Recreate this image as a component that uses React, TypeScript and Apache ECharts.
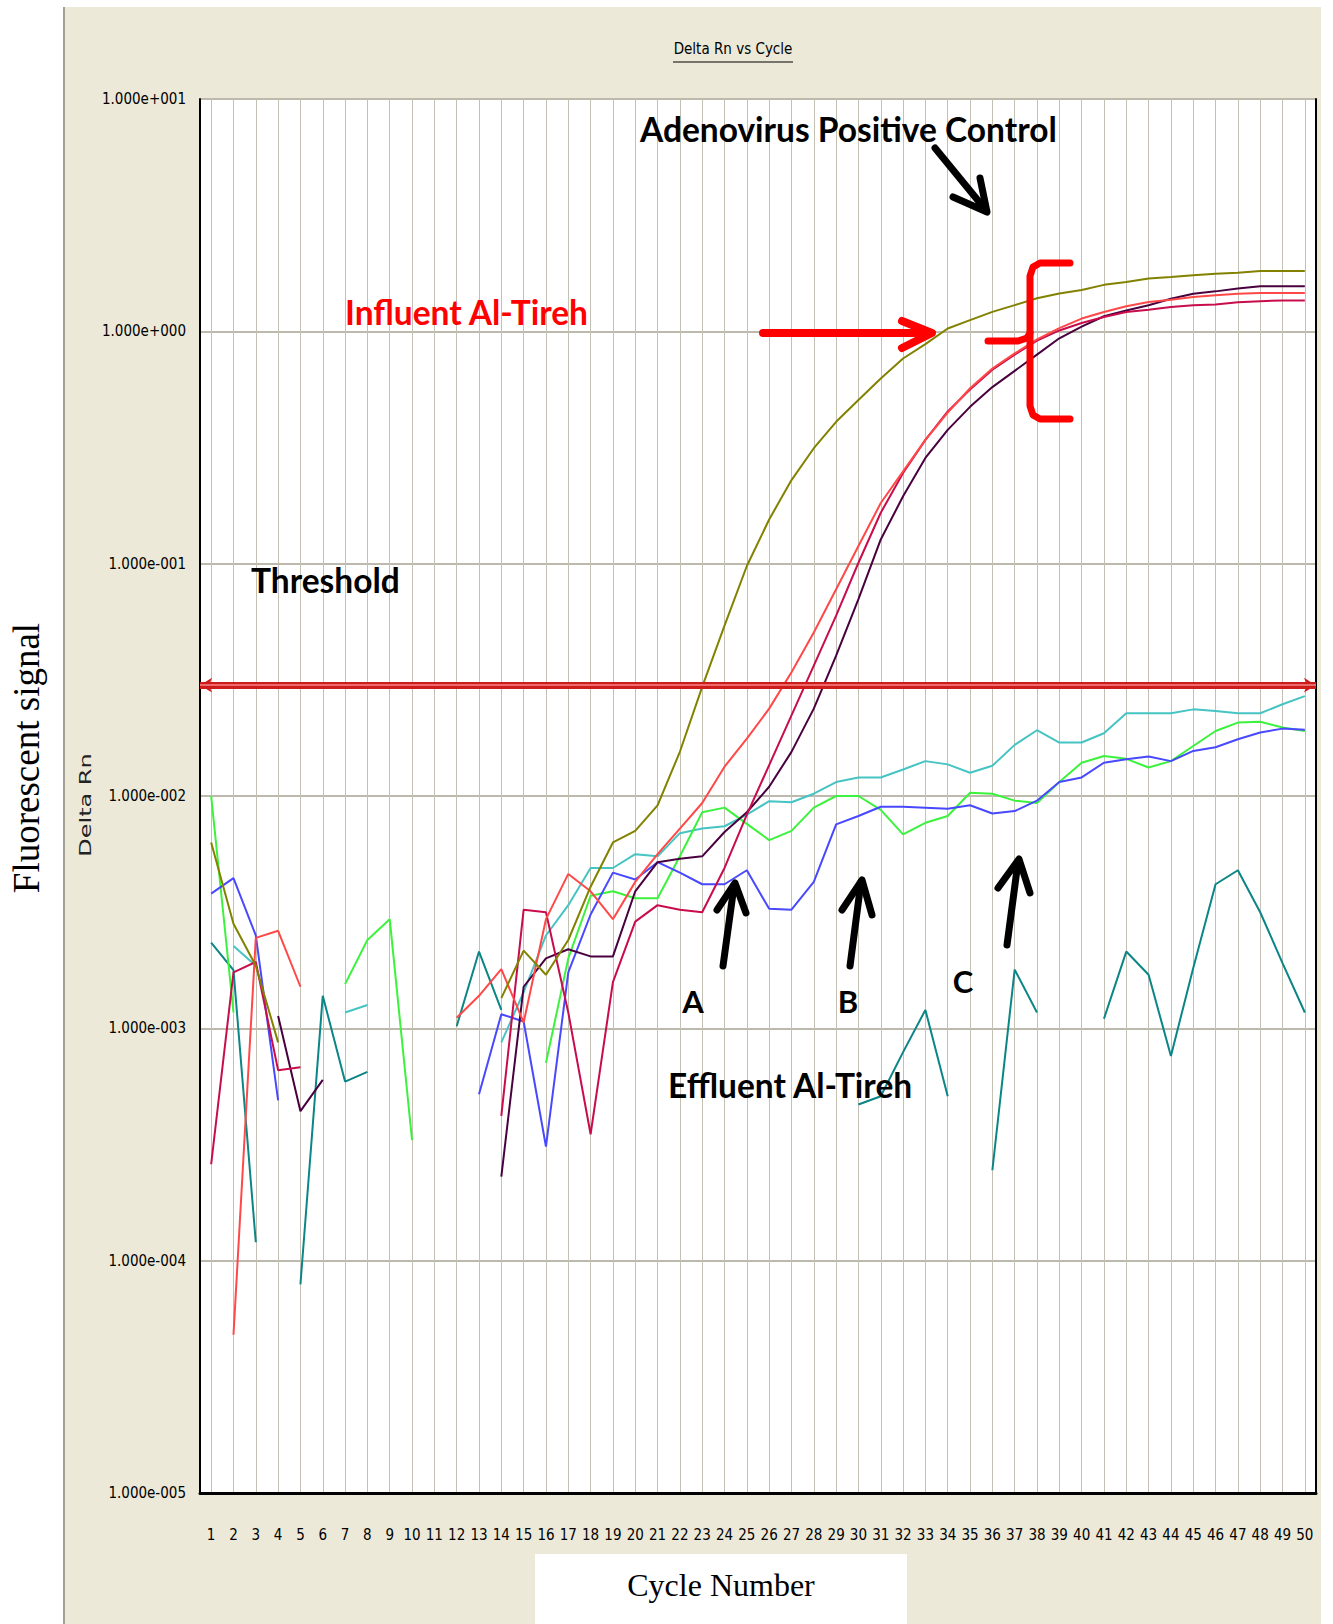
import React, { useEffect, useRef } from "react";
import * as echarts from "echarts";

const cycleLabels = [
  "1", "2", "3", "4", "5", "6", "7", "8", "9", "10",
  "11", "12", "13", "14", "15", "16", "17", "18", "19", "20",
  "21", "22", "23", "24", "25", "26", "27", "28", "29", "30",
  "31", "32", "33", "34", "35", "36", "37", "38", "39", "40",
  "41", "42", "43", "44", "45", "46", "47", "48", "49", "50",
];

const yTickLabels = ["1.000e-005", "1.000e-004", "1.000e-003", "1.000e-002", "1.000e-001", "1.000e+000", "1.000e+001"];
const yMin = 0.00001;
const yMax = 10;
const thresholdValue = 0.0301;

// Adenovirus positive control (olive)
const adenovirusControl = [
  0.00631, 0.00282, 0.00186, 0.00087, null, null, null, null, null, null,
  null, null, null, 0.00135, 0.00216, 0.0017, 0.0024, 0.00407, 0.00631, 0.00708,
  0.00912, 0.0155, 0.0295, 0.0541, 0.0977, 0.155, 0.229, 0.314, 0.408, 0.506,
  0.627, 0.764, 0.881, 1.028, 1.117, 1.213, 1.297, 1.387, 1.455, 1.507,
  1.585, 1.629, 1.687, 1.714, 1.742, 1.77, 1.789, 1.82, 1.82, 1.82,
];

// Influent Al-Tireh samples
const influentSalmon = [
  null, 0.000048, 0.00245, 0.00263, 0.00151, null, null, null, null, null,
  null, 0.00111, 0.00138, 0.0018, 0.00106, 0.00295, 0.00462, 0.00389, 0.00295, 0.00427,
  0.00562, 0.00724, 0.00933, 0.01337, 0.01766, 0.02377, 0.03412, 0.05058, 0.07762, 0.1191,
  0.1824, 0.2495, 0.3412, 0.4467, 0.5689, 0.6918, 0.8035, 0.9226, 1.033, 1.135,
  1.211, 1.282, 1.337, 1.368, 1.406, 1.429, 1.452, 1.462, 1.462, 1.462,
];
const influentCrimson = [
  0.00026, 0.00174, 0.00193, 0.00066, 0.00068, null, null, null, null, null,
  null, null, null, 0.00042, 0.00324, 0.00316, 0.00117, 0.00035, 0.00158, 0.00288,
  0.00339, 0.00324, 0.00316, 0.0049, 0.00832, 0.01358, 0.02223, 0.03639, 0.0597, 0.1009,
  0.1656, 0.2455, 0.3412, 0.4519, 0.5623, 0.6839, 0.7943, 0.912, 1.009, 1.086,
  1.153, 1.211, 1.239, 1.274, 1.294, 1.306, 1.334, 1.349, 1.358, 1.358,
];
const influentPurple = [
  null, null, null, 0.00113, 0.00044, 0.0006, null, null, null, null,
  null, null, null, 0.00023, 0.00151, 0.002, 0.00219, 0.00204, 0.00204, 0.00389,
  0.00519, 0.00537, 0.0055, 0.007, 0.00851, 0.01096, 0.01549, 0.02377, 0.04018, 0.07031,
  0.1271, 0.195, 0.2851, 0.3767, 0.4732, 0.5754, 0.6761, 0.7943, 0.9333, 1.047,
  1.161, 1.23, 1.294, 1.38, 1.452, 1.486, 1.528, 1.563, 1.563, 1.563,
];

// Effluent Al-Tireh samples
const effluentCyan = [
  null, 0.00226, 0.00186, null, null, null, 0.00117, 0.00126, null, null,
  null, null, null, 0.00087, 0.00143, 0.00251, 0.00339, 0.0049, 0.0049, 0.00562,
  0.0055, 0.00692, 0.00724, 0.00741, 0.00832, 0.0095, 0.0094, 0.01023, 0.01148, 0.01202,
  0.01202, 0.013, 0.01413, 0.01368, 0.01259, 0.01349, 0.0166, 0.01919, 0.01698, 0.017,
  0.01862, 0.0227, 0.0227, 0.0227, 0.0236, 0.02323, 0.0227, 0.0227, 0.02483, 0.02692,
];
const effluentGreen = [
  0.01, 0.00117, null, null, null, null, 0.00155, 0.0024, 0.00295, 0.00033,
  null, null, null, null, null, 0.00071, 0.002, 0.00372, 0.00389, 0.00363,
  0.00363, 0.0055, 0.00851, 0.00891, 0.00759, 0.00646, 0.00708, 0.00891, 0.01, 0.01,
  0.00871, 0.00684, 0.00767, 0.0082, 0.01033, 0.01023, 0.00955, 0.00933, 0.01148, 0.0139,
  0.01486, 0.01445, 0.01327, 0.01413, 0.01641, 0.01905, 0.0207, 0.02089, 0.01972, 0.01905,
];
const effluentBlue = [
  0.0038, 0.00443, 0.00251, 0.00049, null, null, null, null, null, null,
  null, null, 0.00052, 0.00115, 0.00107, 0.00031, 0.00174, 0.00309, 0.00468, 0.00437,
  0.00519, 0.00468, 0.00417, 0.00417, 0.00479, 0.00327, 0.00324, 0.00427, 0.00755, 0.0082,
  0.00899, 0.00899, 0.00891, 0.00881, 0.00912, 0.00841, 0.00861, 0.00955, 0.01148, 0.01202,
  0.0139, 0.01439, 0.01479, 0.01413, 0.01563, 0.01622, 0.01754, 0.01875, 0.0195, 0.01928,
];
const effluentTeal = [
  0.00234, 0.00178, 0.00012, null, 0.000079, 0.00138, 0.00059, 0.00065, null, null,
  null, 0.00102, 0.00214, 0.0012, null, null, null, null, null, null,
  null, null, null, null, null, null, null, null, null, 0.00047,
  0.00051, 0.00079, 0.0012, 0.00051, null, 0.000245, 0.00179, 0.00117, null, null,
  0.0011, 0.00214, 0.0017, 0.00076, 0.00182, 0.00417, 0.00479, 0.00316, 0.00191, 0.00117,
];

const NARROW = "'DejaVu Sans Condensed', 'Liberation Sans Narrow', 'Arial Narrow', sans-serif";
const CALIBRI = "Lato, 'Open Sans', sans-serif";
const SERIF = "'Liberation Serif', 'DejaVu Serif', serif";

function lineSeries(name: string, data: (number | null)[], color: string, width = 2) {
  return {
    type: "line",
    name,
    data,
    symbol: "none",
    showSymbol: false,
    connectNulls: false,
    silent: true,
    lineStyle: { color, width },
    itemStyle: { color },
    emphasis: { disabled: true },
  };
}

function poly(points: number[][], color: string, width: number) {
  return {
    type: "polyline",
    z: 100,
    silent: true,
    shape: { points },
    style: { stroke: color, lineWidth: width, fill: null, lineCap: "round", lineJoin: "round" },
  };
}

function label(text: string, x: number, y: number, size: number, color: string, opts: any = {}) {
  return {
    type: "text",
    z: 101,
    silent: true,
    x,
    y,
    rotation: opts.rotation || 0,
    scaleX: opts.scaleX || 1,
    scaleY: opts.scaleY || 1,
    style: {
      text,
      fill: color,
      fontSize: size,
      fontWeight: opts.weight || "normal",
      fontFamily: opts.family || CALIBRI,
      align: opts.align || "left",
      textAlign: opts.align || "left",
      verticalAlign: "middle",
      textVerticalAlign: "middle",
    },
  };
}

export default function App() {
  const ref = useRef<HTMLDivElement>(null);

  useEffect(() => {
    const chart = echarts.init(ref.current!, null, { renderer: "svg" });
    const option: any = {
      animation: false,
      grid: {
        left: 200,
        top: 99,
        width: 1116,
        height: 1394,
        show: true,
        backgroundColor: "#ffffff",
        borderWidth: 0,
      },
      xAxis: {
        type: "category",
        data: cycleLabels,
        boundaryGap: true,
        axisLine: { show: true, lineStyle: { color: "#000", width: 3 } },
        axisTick: { show: false },
        axisLabel: { interval: 0, margin: 34, color: "#000", fontSize: 15, fontFamily: NARROW },
        splitLine: { show: true, interval: 0, alignWithLabel: true, lineStyle: { color: "#c4c0b3", width: 1 } },
      },
      yAxis: [
        {
          type: "log",
          logBase: 10,
          min: yMin,
          max: yMax,
          splitNumber: 6,
          axisLine: { show: true, lineStyle: { color: "#000", width: 2 } },
          axisTick: { show: false },
          axisLabel: {
            margin: 14,
            color: "#000",
            fontSize: 15,
            fontFamily: NARROW,
            formatter: (v: number) => yTickLabels[Math.round(Math.log10(v)) + 5],
          },
          splitLine: { show: true, lineStyle: { color: "#bdb9ac", width: 2 } },
        },
        {
          type: "log",
          logBase: 10,
          min: yMin,
          max: yMax,
          position: "right",
          axisLine: { show: true, lineStyle: { color: "#000", width: 2 } },
          axisTick: { show: false },
          axisLabel: { show: false },
          splitLine: { show: false },
        },
      ],
      series: [
        lineSeries("Effluent Al-Tireh (teal)", effluentTeal, "#0b8585"),
        lineSeries("Effluent Al-Tireh (cyan)", effluentCyan, "#46c3c3"),
        lineSeries("Effluent Al-Tireh (green)", effluentGreen, "#3cf23c"),
        lineSeries("Effluent Al-Tireh (blue)", effluentBlue, "#4848ff"),
        lineSeries("Influent Al-Tireh (purple)", influentPurple, "#48003f"),
        lineSeries("Influent Al-Tireh (crimson)", influentCrimson, "#c80c4c"),
        lineSeries("Influent Al-Tireh (salmon)", influentSalmon, "#ff4848"),
        lineSeries("Adenovirus Positive Control", adenovirusControl, "#828200"),
        {
          type: "line",
          name: "Threshold",
          data: [],
          z: 20,
          silent: true,
          markLine: {
            silent: true,
            symbol: ["arrow", "arrow"],
            symbolSize: [11, 12],
            label: { show: false },
            lineStyle: { color: "#cc1c1c", width: 7, type: "solid", opacity: 1 },
            data: [{ yAxis: thresholdValue }],
          },
        },
        {
          type: "line",
          name: "Threshold inner",
          data: [],
          z: 21,
          silent: true,
          markLine: {
            silent: true,
            symbol: ["none", "none"],
            label: { show: false },
            lineStyle: { color: "#ee6a6a", width: 2, type: "solid", opacity: 1 },
            data: [{ yAxis: thresholdValue }],
          },
        },
      ],
      graphic: [
        // title
        label("Delta Rn vs Cycle", 733, 49, 15, "#000", { family: NARROW, align: "center" }),
        { type: "line", z: 100, silent: true, shape: { x1: 673, y1: 62, x2: 793, y2: 62 }, style: { stroke: "#000", lineWidth: 1 } },
        // axis titles
        label("Delta Rn", 86, 805, 16, "#222", { family: "'DejaVu Sans', sans-serif", align: "center", rotation: Math.PI / 2, scaleX: 1.5 }),
        label("Fluorescent signal", 26, 758, 37, "#000", { family: SERIF, align: "center", rotation: Math.PI / 2 }),
        { type: "rect", z: 99, silent: true, shape: { x: 535, y: 1554, width: 372, height: 70 }, style: { fill: "#ffffff" } },
        label("Cycle Number", 721, 1585, 32, "#000", { family: SERIF, align: "center" }),
        // annotations
        label("Adenovirus Positive Control", 640, 129, 33.5, "#000", { weight: "bold" }),
        poly([[935, 148], [985, 209]], "#000", 7),
        poly([[953, 197], [987, 212], [980, 178]], "#000", 7),
        label("Influent Al-Tireh", 345, 312, 33.5, "#ff0000", { weight: "bold" }),
        poly([[763, 333], [928, 333]], "#ff0000", 8),
        poly([[902, 321], [932, 333], [902, 348]], "#ff0000", 8),
        poly([[1070, 263], [1040, 263], [1033, 267], [1030, 276], [1030, 406], [1033, 415], [1040, 419], [1070, 419]], "#ff0000", 7),
        poly([[988, 341], [1018, 341], [1027, 338], [1030, 333]], "#ff0000", 7),
        label("Threshold", 251, 580, 33.5, "#000", { weight: "bold" }),
        label("A", 693, 1001, 31, "#000", { weight: "bold", align: "center" }),
        label("B", 848, 1001, 31, "#000", { weight: "bold", align: "center" }),
        label("C", 963, 981, 31, "#000", { weight: "bold", align: "center" }),
        poly([[723, 966], [734, 886]], "#000", 7),
        poly([[717, 910], [735, 883], [746, 913]], "#000", 7),
        poly([[850, 966], [861, 882]], "#000", 7),
        poly([[842, 910], [862, 880], [872, 915]], "#000", 7),
        poly([[1007, 945], [1018, 862]], "#000", 7),
        poly([[998, 888], [1019, 859], [1030, 893]], "#000", 7),
        label("Effluent Al-Tireh", 668, 1085, 33.5, "#000", { weight: "bold" }),
      ],
    };
    chart.setOption(option);
    return () => chart.dispose();
  }, []);

  return (
    <div style={{ position: "absolute", left: 0, top: 0, width: 1333, height: 1624, background: "#ffffff", overflow: "hidden" }}>
      <div
        style={{
          position: "absolute",
          left: 63,
          top: 7,
          width: 1258,
          height: 1617,
          background: "#ECE9D8",
          borderLeft: "2px solid #a29f94",
          boxSizing: "border-box",
        }}
      />
      <div ref={ref} style={{ position: "absolute", left: 0, top: 0, width: 1333, height: 1624 }} />
    </div>
  );
}
